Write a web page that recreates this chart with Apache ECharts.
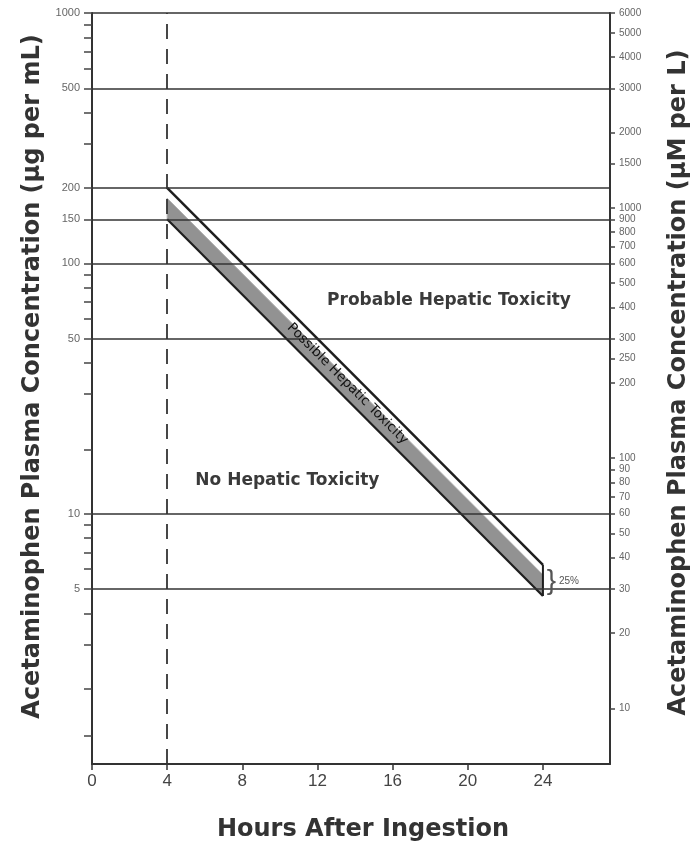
<!DOCTYPE html>
<html><head><meta charset="utf-8">
<script src="https://cdn.jsdelivr.net/npm/echarts@6/dist/echarts.min.js"></script>
<style>html,body{margin:0;padding:0;background:#fff}#chart{width:694px;height:847px}</style>
</head><body><div id="chart"></div>
<script>
// ---- data ----
const hourTicks = [0, 4, 8, 12, 16, 20, 24];
const leftLabelValues = [1000, 500, 200, 150, 100, 50, 10, 5];
const leftMinorTicks = [900, 800, 700, 600, 400, 300, 90, 80, 70, 60, 40, 30, 18, 9, 8, 7, 6, 4, 3, 2, 1.3];
const rightLabelValues = [6000, 5000, 4000, 3000, 2000, 1500, 1000, 900, 800, 700, 600, 500, 400, 300, 250, 200, 100, 90, 80, 70, 60, 50, 40, 30, 20, 10];
const referenceLevels = [1000, 500, 200, 150, 100, 50, 10, 5];
const treatmentHour = 4;
const bandHours = [4, 24];
const upperLimit = [200, 6.25];
const lowerLimit = [150, 4.69];
const shadeTop = [182, 5.7];
const noteTexts = ['Probable Hepatic Toxicity', 'No Hepatic Toxicity', 'Possible Hepatic Toxicity', '}', '25%'];

// ---- layout / style ----
const notes = [
  {at: [19.0, 71], style: {fontSize: 17, fontWeight: 'bold', fill: '#3a3a3a', align: 'center'}, rot: 0},
  {at: [10.4, 13.6], style: {fontSize: 17, fontWeight: 'bold', fill: '#3a3a3a', align: 'center'}, rot: 0},
  {at: [13.6, 33], style: {fontSize: 13.5, fontWeight: 'normal', fill: '#111', align: 'center'}, rot: -Math.PI / 4},
  {at: [24.45, 5.35], style: {fontSize: 28, fontWeight: 'normal', fill: '#555', align: 'center', fontFamily: 'Liberation Sans'}, rot: 0},
  {at: [24.85, 5.35], style: {fontSize: 10, fontWeight: 'normal', fill: '#555', align: 'left', fontFamily: 'Liberation Sans'}, rot: 0}
];

const titleStyle = {fontFamily: 'DejaVu Sans', fontWeight: 'bold', fontSize: 24, color: '#333'};
const fmt = v => String(v);
const zip = (a, b) => a.map((v, i) => [v, b[i]]);

const chart = echarts.init(document.getElementById('chart'), null, {renderer: 'canvas'});
chart.setOption({
  animation: false,
  backgroundColor: '#fff',
  grid: {left: 92, right: 84, top: 13, bottom: 83, containLabel: false, outerBoundsMode: 'none'},
  xAxis: {
    type: 'value', min: 0, max: 27.57, interval: 4,
    axisLine: {show: true, lineStyle: {color: '#333', width: 2}},
    axisTick: {show: true, length: 6, inside: false, customValues: hourTicks, lineStyle: {color: '#333', width: 1.5}},
    axisLabel: {customValues: hourTicks, formatter: fmt, fontSize: 17, color: '#444', margin: 9, fontFamily: 'Liberation Sans'},
    splitLine: {show: false},
    name: 'Hours After Ingestion', nameLocation: 'middle', nameGap: 54,
    nameTextStyle: Object.assign({padding: [0, 0, 0, 24]}, titleStyle)
  },
  yAxis: [
    {
      type: 'log', logBase: 10, min: 1, max: 1000, position: 'left',
      axisLine: {show: true, onZero: false, lineStyle: {color: '#333', width: 2}},
      axisTick: {show: true, inside: false, length: 8, customValues: leftLabelValues.concat(leftMinorTicks), lineStyle: {color: '#444', width: 1.5}},
      axisLabel: {customValues: leftLabelValues, formatter: fmt, fontSize: 11, color: '#666', margin: 12, fontFamily: 'Liberation Sans'},
      splitLine: {show: false}, minorTick: {show: false},
      name: 'Acetaminophen Plasma Concentration (\u00b5g per mL)', nameLocation: 'middle', nameGap: 47, nameRotate: 90,
      nameTextStyle: Object.assign({padding: [0, 0, 0, 24]}, titleStyle)
    },
    {
      type: 'log', logBase: 10, min: 6, max: 6000, position: 'right',
      axisLine: {show: true, onZero: false, lineStyle: {color: '#333', width: 2}},
      axisTick: {show: true, inside: false, length: 5, customValues: rightLabelValues, lineStyle: {color: '#444', width: 1.5}},
      axisLabel: {customValues: rightLabelValues, formatter: fmt, fontSize: 10, color: '#666', margin: 9, fontFamily: 'Liberation Sans'},
      splitLine: {show: false}, minorTick: {show: false},
      name: 'Acetaminophen Plasma Concentration (\u00b5M per L)', nameLocation: 'middle', nameGap: 57, nameRotate: 90,
      nameTextStyle: Object.assign({padding: [0, 0, 0, 12]}, titleStyle)
    }
  ],
  series: [
    {
      type: 'line', data: [], z: 1, silent: true,
      markLine: {
        silent: true, symbol: ['none', 'none'], label: {show: false}, animation: false,
        data: referenceLevels.map(v => ({yAxis: v, lineStyle: {color: '#333', width: 1.6, type: 'solid'}}))
          .concat([{xAxis: treatmentHour, lineStyle: {color: '#333', width: 1.8, type: [15, 10]}}])
      }
    },
    {
      type: 'custom', coordinateSystem: 'cartesian2d', z: 3, silent: true,
      data: [[bandHours[0], shadeTop[0]]],
      renderItem: function (params, api) {
        const pts = [];
        for (let i = 0; i < bandHours.length; i++) pts.push(api.coord([bandHours[i], shadeTop[i]]));
        for (let i = bandHours.length - 1; i >= 0; i--) pts.push(api.coord([bandHours[i], lowerLimit[i]]));
        return {type: 'polygon', shape: {points: pts}, style: {fill: '#929292', stroke: '#b0b0b0', lineWidth: 1}};
      }
    },
    {type: 'line', data: zip(bandHours, upperLimit), z: 4, symbol: 'none', silent: true, lineStyle: {color: '#1e1e1e', width: 2.5}},
    {type: 'line', data: zip(bandHours, lowerLimit), z: 4, symbol: 'none', silent: true, lineStyle: {color: '#1e1e1e', width: 2.2}},
    {type: 'line', data: [[bandHours[1], lowerLimit[1]], [bandHours[1], upperLimit[1]]], z: 4, symbol: 'none', silent: true, lineStyle: {color: '#1e1e1e', width: 2}},
    {
      type: 'custom', coordinateSystem: 'cartesian2d', z: 5, silent: true,
      data: notes.map(n => n.at),
      renderItem: function (params, api) {
        const n = notes[params.dataIndex];
        const p = api.coord([api.value(0), api.value(1)]);
        return {
          type: 'text', x: p[0], y: p[1], rotation: n.rot,
          style: Object.assign({text: noteTexts[params.dataIndex], verticalAlign: 'middle', fontFamily: 'DejaVu Sans'}, n.style)
        };
      }
    }
  ]
});
</script></body></html>
